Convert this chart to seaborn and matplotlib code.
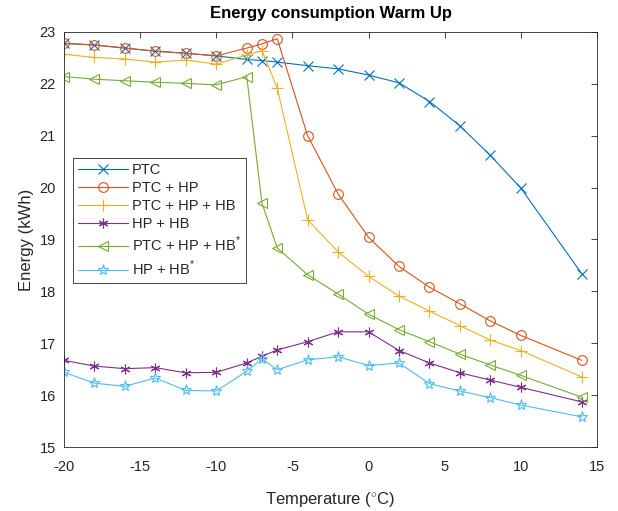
import numpy as np
import pandas as pd
import seaborn as sns
import matplotlib.pyplot as plt

## data
temp = [-20, -18, -16, -14, -12, -10, -8, -7, -6, -4, -2, 0, 2, 4, 6, 8, 10, 14]
ptc = [22.78, 22.75, 22.69, 22.63, 22.59, 22.54, 22.47, 22.45, 22.42, 22.35, 22.29, 22.17,
       22.02, 21.66, 21.19, 20.62, 19.99, 18.34]
ptc_hp = [22.78, 22.75, 22.69, 22.63, 22.59, 22.54, 22.69, 22.77, 22.87, 21.00, 19.88, 19.04,
          18.48, 18.08, 17.76, 17.43, 17.15, 16.67]
ptc_hp_hb = [22.57, 22.51, 22.48, 22.42, 22.46, 22.38, 22.56, 22.64, 21.92, 19.38, 18.76, 18.29,
             17.91, 17.62, 17.34, 17.06, 16.86, 16.35]
hp_hb = [16.67, 16.56, 16.51, 16.53, 16.43, 16.44, 16.62, 16.75, 16.87, 17.03, 17.22, 17.22,
         16.86, 16.62, 16.43, 16.29, 16.15, 15.87]
ptc_hp_hb_s = [22.14, 22.09, 22.06, 22.03, 22.01, 21.98, 22.14, 19.70, 18.84, 18.32, 17.95, 17.56,
               17.26, 17.03, 16.79, 16.58, 16.38, 15.96]
hp_hb_s = [16.44, 16.23, 16.17, 16.33, 16.09, 16.08, 16.46, 16.70, 16.49, 16.68, 16.74, 16.57,
           16.62, 16.22, 16.08, 15.95, 15.81, 15.58]

labels = ['PTC', 'PTC + HP', 'PTC + HP + HB', 'HP + HB',
          'PTC + HP + HB$^{*}$', 'HP + HB$^{*}$']
series = [ptc, ptc_hp, ptc_hp_hb, hp_hb, ptc_hp_hb_s, hp_hb_s]
colors = ['#0072BD', '#D95319', '#EDB120', '#7E2F8E', '#77AC30', '#4DBEEE']
markers = ['x', 'o', '+', (6, 2, 0), '<', '*']
msizes = [6.5, 7, 8, 7, 7.5, 8]

## plot
sns.set_style('white')
plt.rcParams['font.family'] = ['Liberation Sans', 'DejaVu Sans']
plt.rcParams['font.size'] = 10.5
plt.rcParams['axes.unicode_minus'] = False
plt.rcParams['mathtext.fontset'] = 'custom'
plt.rcParams['mathtext.rm'] = 'Liberation Sans'

fig = plt.figure(figsize=(6.18, 5.11), dpi=100)
ax = fig.add_axes([64 / 618, 1 - 447 / 511, 533 / 618, 415 / 511])

for lab, vals, col, mk, ms in zip(labels, series, colors, markers, msizes):
    df = pd.DataFrame({'Temperature': temp, 'Energy': vals})
    hollow = mk in ['o', '<', '*']
    sns.lineplot(data=df, x='Temperature', y='Energy', ax=ax, color=col, marker=mk,
                 markersize=ms, linewidth=0.8, label=lab,
                 markerfacecolor='none' if hollow else col,
                 markeredgecolor=col, markeredgewidth=0.8)

axcol = '#262626'
ax.set_xlim(-20, 15)
ax.set_ylim(15, 23)
ax.set_xticks(range(-20, 16, 5))
ax.set_yticks(range(15, 24))
ax.tick_params(direction='in', top=True, right=True, length=4, width=0.6,
               colors=axcol, labelsize=10.5, labelcolor=axcol)
ax.tick_params(axis='x', pad=9)
ax.tick_params(axis='y', pad=6)
for sp in ax.spines.values():
    sp.set_visible(True)
    sp.set_color(axcol)
    sp.set_linewidth(0.6)
ax.set_title('Energy consumption Warm Up', fontsize=12, fontweight='bold', color='black', pad=10)
ax.set_xlabel('Temperature ($^{\\circ}$C)', fontsize=12, color=axcol, labelpad=12)
ax.set_ylabel('Energy (kWh)', fontsize=12, color=axcol, labelpad=4)

leg = ax.legend(loc='upper left', bbox_to_anchor=(0.017, 0.697), fancybox=False,
                edgecolor=axcol, framealpha=1, fontsize=10.5, handlelength=3.4, numpoints=1,
                borderpad=0.35, labelspacing=0.28, handletextpad=0.3, borderaxespad=0)
leg.get_frame().set_linewidth(0.6)

fig.savefig('out.png', dpi=100)
